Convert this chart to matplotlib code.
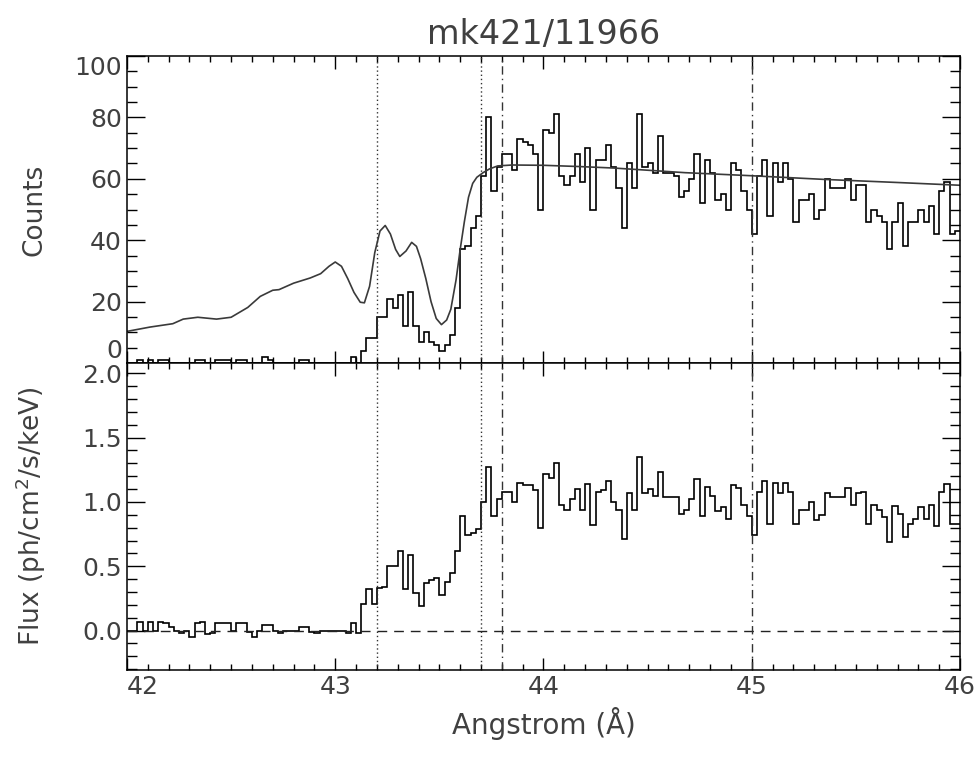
import matplotlib
matplotlib.use('Agg')
import matplotlib.pyplot as plt
from matplotlib.ticker import MultipleLocator, FormatStrFormatter
import numpy as np

# binning of the spectrum (Angstrom)
bin_lo = 42.0
bin_width = 0.025

# counts per bin
counts = [0, 0, 1, 0, 1, 0, 1, 1, 0, 0,
          0, 0, 0, 1, 1, 0, 0, 1, 1, 1,
          0, 1, 1, 0, 0, 0, 2, 1, 0, 0,
          0, 0, 0, 1, 1, 0, 0, 0, 0, 0,
          0, 0, 0, 2, 0, 4, 8, 8, 15, 15,
          21, 18, 22, 12, 23, 12, 7, 10, 7, 6,
          4, 6, 9, 18, 37, 38, 44, 48, 61, 80,
          56, 64, 68, 68, 63, 73, 72, 71, 68, 50,
          76, 75, 81, 61, 58, 61, 68, 59, 70, 50,
          66, 66, 71, 64, 57, 44, 65, 57, 81, 64,
          65, 62, 74, 62, 62, 61, 54, 56, 60, 68,
          52, 66, 62, 53, 55, 50, 65, 63, 56, 50,
          42, 61, 66, 48, 65, 59, 65, 60, 46, 53,
          53, 55, 47, 50, 60, 57, 57, 57, 60, 53,
          58, 58, 46, 50, 48, 46, 37, 46, 52, 38,
          46, 46, 50, 46, 51, 42, 56, 59, 42, 43]

# fluxed spectrum, lower panel
flux = [0.0, 0.0, 0.07, 0.0, 0.07, 0.0, 0.07, 0.06, 0.03, 0.0,
        -0.02, 0.0, -0.05, 0.06, 0.07, -0.03, -0.02, 0.06, 0.06, 0.06,
        0.0, 0.06, 0.06, -0.01, -0.05, 0.0, 0.04, 0.04, 0.0, -0.015,
        0.0, 0.0, 0.0, 0.03, 0.03, -0.01, -0.015, 0.0, 0.0, 0.0,
        0.0, 0.0, -0.02, 0.06, -0.02, 0.21, 0.32, 0.21, 0.33, 0.34,
        0.50, 0.50, 0.62, 0.32, 0.59, 0.29, 0.19, 0.37, 0.39, 0.41,
        0.28, 0.38, 0.45, 0.62, 0.89, 0.74, 0.76, 0.79, 1.00, 1.27,
        0.89, 1.02, 1.08, 1.08, 1.00, 1.15, 1.13, 1.13, 1.09, 0.80,
        1.22, 1.19, 1.30, 0.98, 0.94, 1.02, 1.10, 0.94, 1.14, 0.82,
        1.08, 1.09, 1.16, 1.00, 0.94, 0.71, 1.07, 0.94, 1.35, 1.07,
        1.10, 1.05, 1.23, 1.04, 1.04, 1.04, 0.91, 0.94, 1.02, 1.18,
        0.89, 1.12, 1.05, 0.93, 0.96, 0.87, 1.13, 1.11, 0.98, 0.89,
        0.74, 1.08, 1.16, 0.83, 1.15, 1.07, 1.15, 1.08, 0.83, 0.94,
        0.94, 1.00, 0.86, 0.90, 1.07, 1.04, 1.04, 1.04, 1.11, 0.98,
        1.07, 1.08, 0.83, 0.98, 0.94, 0.88, 0.69, 0.97, 0.91, 0.73,
        0.83, 0.87, 0.96, 0.87, 0.98, 0.81, 1.08, 1.14, 0.83, 0.83]

# folded model, upper panel
model_wave = [42.00, 42.11, 42.22, 42.27, 42.34, 42.43, 42.50, 42.58, 42.64, 42.70,
              42.73, 42.80, 42.88, 42.93, 42.97, 43.00, 43.03, 43.06, 43.09, 43.12,
              43.14, 43.165, 43.19, 43.215, 43.24, 43.265, 43.29, 43.31, 43.34, 43.367,
              43.39, 43.41, 43.435, 43.46, 43.485, 43.51, 43.535, 43.555, 43.58, 43.60,
              43.62, 43.64, 43.66, 43.68, 43.71, 43.74, 43.78, 43.85, 44.00, 44.17,
              44.34, 44.50, 44.68, 45.00, 45.35, 45.70, 46.00]
model_counts = [10.3, 11.7, 12.8, 14.3, 14.9, 14.3, 14.9, 18.1, 21.7, 23.7,
                23.9, 26.0, 27.7, 29.1, 31.5, 32.9, 31.5, 27.5, 23.0, 19.8,
                19.6, 25.0, 36.0, 43.0, 44.8, 42.0, 37.0, 34.7, 36.5, 39.3,
                38.0, 34.0, 27.5, 20.0, 14.5, 12.5, 14.0, 17.5, 27.0, 37.0,
                46.0, 54.0, 58.5, 60.5, 62.0, 63.2, 64.2, 64.5, 64.4, 64.0,
                63.5, 62.8, 62.0, 61.0, 59.8, 58.8, 57.9]

dotted_lines = [43.2, 43.7]
dashdot_lines = [43.8, 45.0]

edges = bin_lo + bin_width * np.arange(len(counts) + 1)

txt = '#404040'
plt.rcParams['font.family'] = 'DejaVu Sans'
plt.rcParams['axes.linewidth'] = 1.1

fig = plt.figure(figsize=(9.76, 7.58), dpi=100)
ax1 = fig.add_axes([0.1301, 0.5211, 0.8535, 0.4050])
ax2 = fig.add_axes([0.1301, 0.1161, 0.8535, 0.4050], sharex=ax1)

ax1.stairs(counts, edges, baseline=None, color='k', lw=1.2)
ax1.plot(model_wave, model_counts, color='#3a3a3a', lw=1.2)
ax1.axhline(0, color='#999999', ls=(0, (7, 5)), lw=1.0)
ax1.set_ylim(0, 100)

ax2.stairs(flux, edges, baseline=None, color='k', lw=1.2)
ax2.axhline(0, color='#222222', ls=(0, (7, 5)), lw=1.0)
ax2.set_ylim(-0.306, 2.08)

for ax in (ax1, ax2):
    for x in dotted_lines:
        ax.axvline(x, color='#333333', ls=(0, (1, 2)), lw=1.0)
    for x in dashdot_lines:
        ax.axvline(x, color='#333333', ls=(0, (6, 3, 1, 3)), lw=1.0)
    ax.xaxis.set_major_locator(MultipleLocator(1))
    ax.xaxis.set_minor_locator(MultipleLocator(0.1))
    ax.tick_params(which='both', direction='in', top=True, right=True,
                   labelsize=18, labelcolor=txt, width=1.0)
    ax.tick_params(axis='y', which='major', length=13)
    ax.tick_params(axis='y', which='minor', length=7)
    ax.tick_params(axis='x', which='major', length=9)
    ax.tick_params(axis='x', which='minor', length=4.5)

ax1.set_xlim(42, 46)
ax1.yaxis.set_major_locator(MultipleLocator(20))
ax1.yaxis.set_minor_locator(MultipleLocator(5))
ax1.tick_params(axis='x', labelbottom=False)
ax2.yaxis.set_major_locator(MultipleLocator(0.5))
ax2.yaxis.set_minor_locator(MultipleLocator(0.1))
ax2.yaxis.set_major_formatter(FormatStrFormatter('%.1f'))

ax1.set_ylabel('Counts', fontsize=19, color=txt)
ax2.set_ylabel('Flux (ph/cm$^2$/s/keV)', fontsize=19, color=txt)
ax1.yaxis.set_label_coords(-0.095, 0.5)
ax2.yaxis.set_label_coords(-0.095, 0.5)
ax2.set_xlabel('Angstrom (\u00c5)', fontsize=20, color=txt, labelpad=6)
ax1.set_title('mk421/11966', fontsize=24, color=txt, pad=9)

fig.canvas.draw()
# keep the end labels inside the frame like the original plot
yt = [t for t in ax1.yaxis.get_major_ticks() if 0 <= t.get_loc() <= 100]
yt[0].label1.set_verticalalignment('bottom')
yt[-1].label1.set_verticalalignment('top')
xt = [t for t in ax2.xaxis.get_major_ticks() if 42 <= t.get_loc() <= 46]
xt[0].label1.set_horizontalalignment('left')

fig.savefig('out.png', dpi=100)
